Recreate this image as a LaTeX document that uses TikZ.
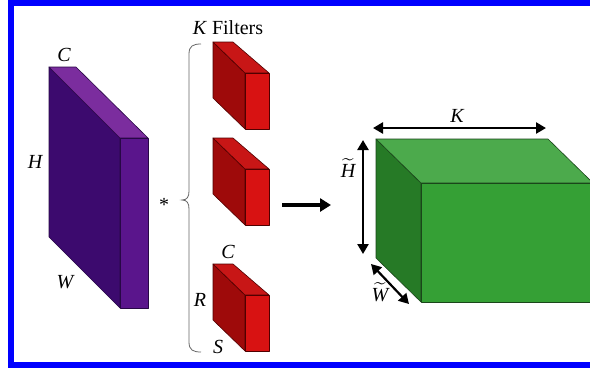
\documentclass[tikz,border=0pt]{standalone}
\usepackage{fontspec}
\setmainfont{Liberation Serif}
\usepackage{amsmath}
\usetikzlibrary{arrows.meta}
\newcommand{\tld}[1]{$\widetilde{\mbox{\itshape #1}}$}

\begin{document}
\begin{tikzpicture}[x=1pt, y=-1pt,
  lbl/.style={inner sep=0pt, font=\fontsize{20}{22}\selectfont\itshape},
  face/.style={line width=0.6pt, line join=round},
  dim/.style={line width=2.6pt, {Triangle[length=10pt,width=11pt]}-{Triangle[length=10pt,width=11pt]}},
  brc/.style={draw=black!60, line width=0.8pt}]
\useasboundingbox (0,0) rectangle (590,368);
\clip (0,0) rectangle (590,368);
\fill[white] (0,0) rectangle (590,368);
\draw[blue, line width=6pt] (11,3) rectangle (610,365);
% input slab
\filldraw[face, fill={rgb,255:red,60;green,10;blue,110}, draw={rgb,255:red,40;green,8;blue,70}]
  (49,67) -- (120,138) -- (120,308) -- (49,237) -- cycle;
\filldraw[face, fill={rgb,255:red,123;green,45;blue,158}, draw={rgb,255:red,40;green,8;blue,70}]
  (49,67) -- (76,67) -- (148,138) -- (120,138) -- cycle;
\filldraw[face, fill={rgb,255:red,90;green,21;blue,140}, draw={rgb,255:red,40;green,8;blue,70}]
  (120,138) -- (148,138) -- (148,308) -- (120,308) -- cycle;
\node[lbl] (inC) at (64,55) {C};
\node[lbl] (inH) at (35,162) {H};
\node[lbl] (inW) at (65,282) {W};
\node[lbl, font=\fontsize{20}{22}\selectfont] (star) at (164,205) {*};
% brace
\draw[brc] (201,44) .. controls (193,44) and (189,46) .. (189,54) -- (189,191)
  .. controls (189,197) and (187,200) .. (182,200)
  .. controls (187,200) and (189,203) .. (189,209) -- (189,342)
  .. controls (189,350) and (193,352) .. (201,352);
\node[lbl, font=\fontsize{20}{22}\selectfont] (filt) at (228,28) {\textit{K} Filters};
% filters
\foreach \t in {42,138,264} {
  \filldraw[face, fill={rgb,255:red,158;green,10;blue,10}, draw={rgb,255:red,80;green,0;blue,0}]
    (213,\t) -- (245,\t+31) -- (245,\t+87) -- (213,\t+56) -- cycle;
  \filldraw[face, fill={rgb,255:red,200;green,22;blue,22}, draw={rgb,255:red,80;green,0;blue,0}]
    (213,\t) -- (233,\t) -- (269,\t+31) -- (245,\t+31) -- cycle;
  \filldraw[face, fill={rgb,255:red,216;green,18;blue,18}, draw={rgb,255:red,80;green,0;blue,0}]
    (245,\t+31) -- (269,\t+31) -- (269,\t+87) -- (245,\t+87) -- cycle;
}
\node[lbl] (fC) at (228,252) {C};
\node[lbl] (fR) at (200,300) {R};
\node[lbl] (fS) at (218,347) {S};
% conv arrow
\coordinate (a1) at (282,205);
\coordinate (a2) at (331,205);
\draw[line width=4pt, -{Triangle[length=11pt,width=13pt]}] (a1) -- (a2);
% output volume
\filldraw[face, fill={rgb,255:red,38;green,122;blue,38}, draw={rgb,255:red,26;green,70;blue,26}]
  (376,139) -- (421,183) -- (421,302) -- (376,258) -- cycle;
\filldraw[face, fill={rgb,255:red,76;green,170;blue,76}, draw={rgb,255:red,26;green,70;blue,26}]
  (376,139) -- (548,139) -- (593,183) -- (421,183) -- cycle;
\filldraw[face, fill={rgb,255:red,53;green,160;blue,53}, draw={rgb,255:red,26;green,70;blue,26}]
  (421,183) -- (593,183) -- (593,302) -- (421,302) -- cycle;
\coordinate (k1) at (373,128);
\coordinate (k2) at (546,128);
\coordinate (h1) at (363,140);
\coordinate (h2) at (363,254);
\coordinate (w1) at (371,264);
\coordinate (w2) at (409,304);
\draw[dim] (k1) -- (k2);
\draw[dim] (h1) -- (h2);
\draw[dim, line width=2.2pt] (w1) -- (w2);
\node[lbl] (oK) at (457,116) {K};
\node[lbl] (oH) at (348,168) {\tld{H}};
\node[lbl] (oW) at (380,292) {\tld{W}};
\end{tikzpicture}
\end{document}
